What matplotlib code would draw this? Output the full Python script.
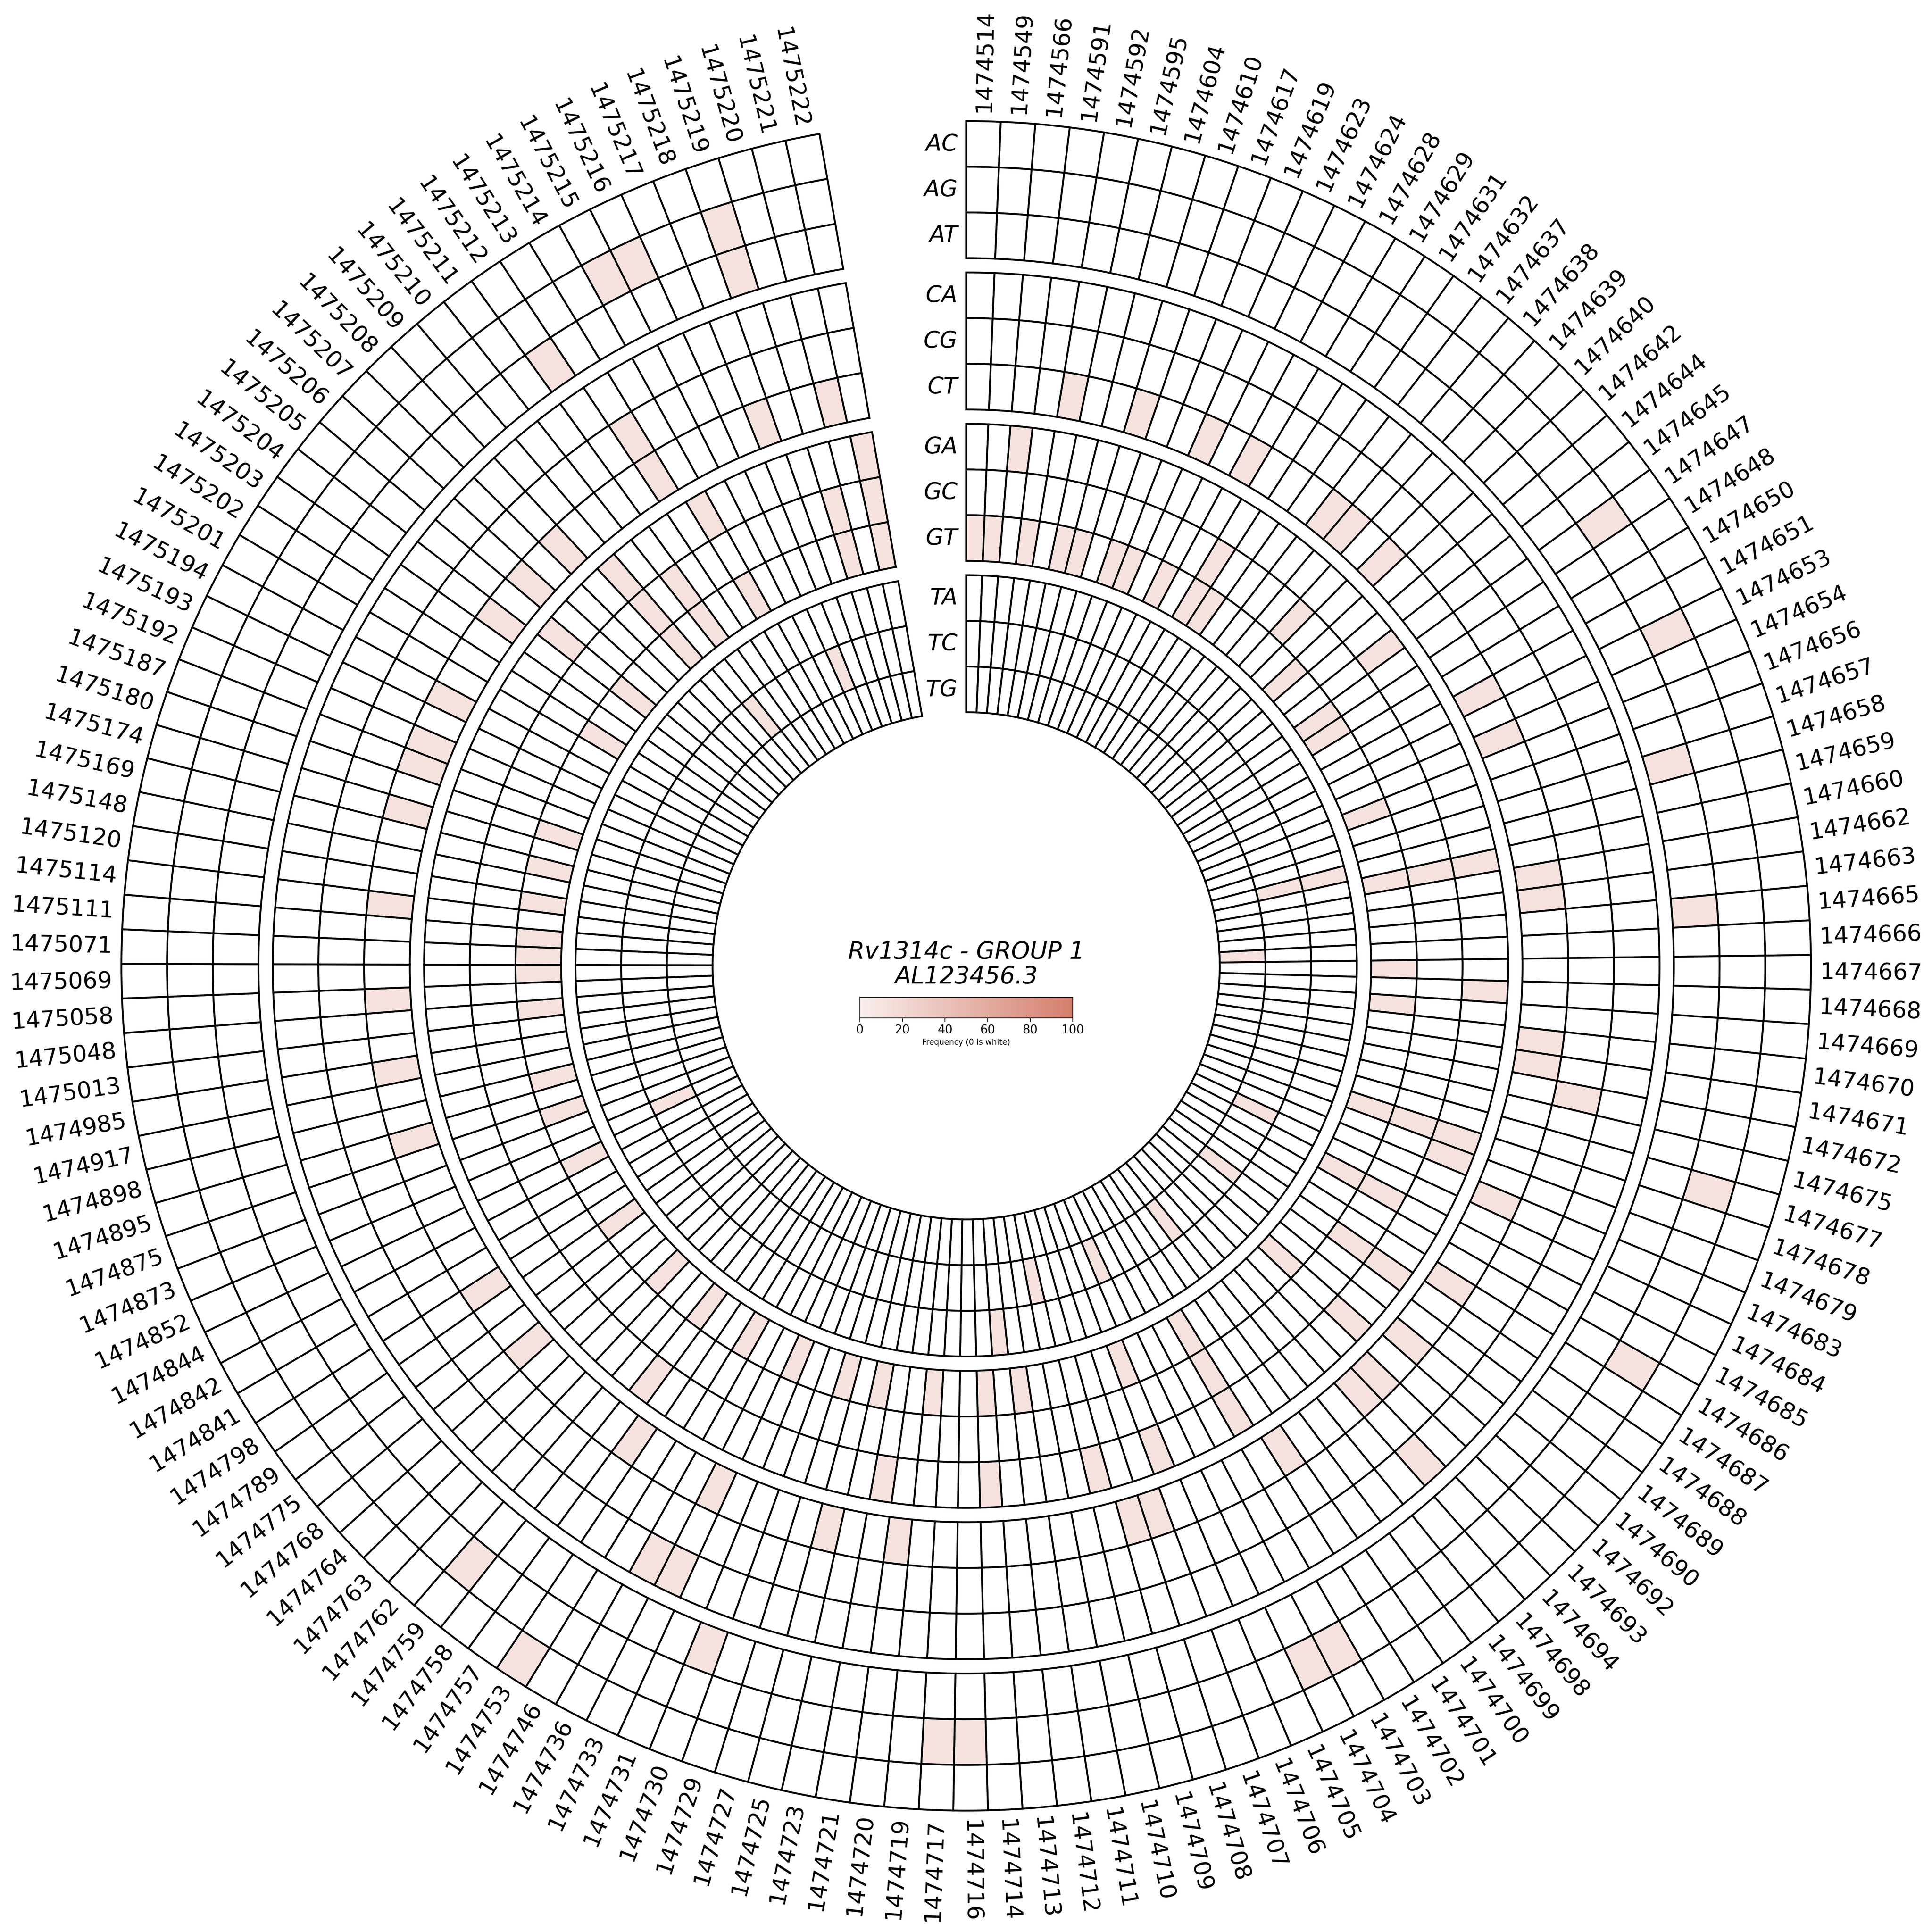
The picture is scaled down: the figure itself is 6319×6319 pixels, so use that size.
import matplotlib
matplotlib.use("Agg")
import matplotlib.pyplot as plt
import numpy as np
from matplotlib.colors import LinearSegmentedColormap, Normalize
from matplotlib.cm import ScalarMappable

# genomic positions, clockwise from the top
positions = [1474514, 1474549, 1474566, 1474591, 1474592, 1474595, 1474604, 1474610,
             1474617, 1474619, 1474623, 1474624, 1474628, 1474629, 1474631, 1474632,
             1474637, 1474638, 1474639, 1474640, 1474642, 1474644, 1474645, 1474647,
             1474648, 1474650, 1474651, 1474653, 1474654, 1474656, 1474657, 1474658,
             1474659, 1474660, 1474662, 1474663, 1474665, 1474666, 1474667, 1474668,
             1474669, 1474670, 1474671, 1474672, 1474675, 1474677, 1474678, 1474679,
             1474683, 1474684, 1474685, 1474686, 1474687, 1474688, 1474689, 1474690,
             1474692, 1474693, 1474694, 1474698, 1474699, 1474700, 1474701, 1474702,
             1474703, 1474704, 1474705, 1474706, 1474707, 1474708, 1474709, 1474710,
             1474711, 1474712, 1474713, 1474714, 1474716, 1474717, 1474719, 1474720,
             1474721, 1474723, 1474725, 1474727, 1474729, 1474730, 1474731, 1474733,
             1474736, 1474746, 1474753, 1474757, 1474758, 1474759, 1474762, 1474763,
             1474764, 1474768, 1474775, 1474789, 1474798, 1474841, 1474842, 1474844,
             1474852, 1474873, 1474875, 1474895, 1474898, 1474917, 1474985, 1475013,
             1475048, 1475058, 1475069, 1475071, 1475111, 1475114, 1475120, 1475148,
             1475169, 1475174, 1475180, 1475187, 1475192, 1475193, 1475194, 1475201,
             1475202, 1475203, 1475204, 1475205, 1475206, 1475207, 1475208, 1475209,
             1475210, 1475211, 1475212, 1475213, 1475214, 1475215, 1475216, 1475217,
             1475218, 1475219, 1475220, 1475221, 1475222]

substitutions = ["AC", "AG", "AT", "CA", "CG", "CT", "GA", "GC", "GT", "TA", "TC", "TG"]

# frequency (%) per position, positions not listed are 0
freq_AC = {1474753: 12}
freq_AG = {1474647: 12, 1474653: 12, 1474677: 12, 1474686: 12, 1474703: 12, 1474704: 12,
           1474716: 12, 1474717: 12, 1474759: 12, 1475215: 12, 1475216: 12, 1475219: 12}
freq_AT = {1474658: 12, 1474665: 12, 1474730: 12, 1475212: 12, 1475219: 12}
freq_CA = {1474694: 12, 1474733: 12, 1474736: 12}
freq_CG = {1474672: 12, 1475213: 12}
freq_CT = {1474592: 12, 1474610: 12, 1474623: 12, 1474628: 12, 1474637: 12, 1474638: 12,
           1474640: 12, 1474651: 12, 1474654: 12, 1474662: 12, 1474663: 12, 1474670: 12,
           1474671: 12, 1474683: 12, 1474687: 12, 1474690: 12, 1474693: 12, 1474694: 12,
           1474701: 12, 1474707: 12, 1474708: 12, 1474720: 12, 1474725: 12, 1474733: 12,
           1474757: 12, 1474768: 12, 1474798: 12, 1474895: 12, 1474985: 12, 1475058: 12,
           1475114: 12, 1475174: 12, 1475187: 12, 1475192: 12, 1475194: 12, 1475204: 12,
           1475206: 12, 1475208: 12, 1475213: 12, 1475218: 12, 1475221: 12}
freq_GA = {1474566: 12, 1474645: 12, 1474660: 12, 1474668: 12, 1474678: 12, 1474679: 12,
           1474688: 12, 1474692: 12, 1474702: 12, 1474706: 12, 1474709: 12, 1474714: 12,
           1474721: 12, 1474758: 12, 1475205: 12, 1475209: 12, 1475214: 12, 1475222: 12}
freq_GC = {1474629: 12, 1474639: 12, 1474660: 12, 1474678: 12, 1474685: 12, 1474688: 12,
           1474702: 12, 1475209: 12, 1475211: 12, 1475220: 12, 1475222: 12}
freq_GT = {1474514: 12, 1474549: 12, 1474591: 12, 1474595: 12, 1474604: 12, 1474617: 12,
           1474619: 12, 1474624: 12, 1474629: 12, 1474631: 12, 1474642: 12, 1474647: 12,
           1474648: 12, 1474656: 12, 1474660: 12, 1474667: 12, 1474669: 12, 1474678: 12,
           1474685: 12, 1474692: 12, 1474702: 12, 1474706: 12, 1474712: 12, 1474714: 12,
           1474719: 12, 1474723: 12, 1474727: 12, 1474731: 12, 1474746: 12, 1474758: 12,
           1474763: 12, 1474789: 12, 1474844: 12, 1474875: 12, 1474898: 12, 1475048: 12,
           1475069: 12, 1475071: 12, 1475111: 12, 1475120: 12, 1475169: 12, 1475180: 12,
           1475202: 12, 1475205: 12, 1475209: 12, 1475211: 12, 1475214: 12, 1475220: 12,
           1475222: 12}
freq_TA = {1474659: 12, 1474713: 12}
freq_TC = {1474659: 12, 1474684: 12, 1474689: 12, 1474699: 12, 1474705: 12, 1474710: 12,
           1474852: 12, 1475210: 12, 1475217: 12}
freq_TG = {1474666: 12}

freqs = [freq_AC, freq_AG, freq_AT, freq_CA, freq_CG, freq_CT,
         freq_GA, freq_GC, freq_GT, freq_TA, freq_TC, freq_TG]

title = "Rv1314c - GROUP 1"
subtitle = "AL123456.3"

W = 6766
R = W / 2
n = len(positions)
span = np.deg2rad(350)
step = span / n
theta = (np.arange(n) + 0.5) * step

cmap = LinearSegmentedColormap.from_list("freq", ["#f9efed", "#d47e6c"])
norm = Normalize(0, 100)

fig = plt.figure(figsize=(W / 400, W / 400), dpi=400)
ax = fig.add_axes([0, 0, 1, 1], projection="polar")
ax.set_theta_zero_location("N")
ax.set_theta_direction(-1)
ax.set_ylim(0, R)
ax.set_axis_off()

row_h = 160
for k, (sub, fr) in enumerate(zip(substitutions, freqs)):
    outer = 2958 - (k // 3) * 530 - (k % 3) * row_h
    vals = np.array([fr.get(p, 0) for p in positions], dtype=float)
    cols = [cmap(norm(v)) if v > 0 else "white" for v in vals]
    ax.bar(theta, row_h, width=step, bottom=outer - row_h, color=cols,
           edgecolor="black", linewidth=1.15, align="center")
    fig.text((R - 30) / W, 0.5 + (outer - row_h / 2) / W, sub, ha="right", va="center",
             style="italic", fontsize=14.5)

for t, p in zip(theta, positions):
    deg = np.rad2deg(t)
    if deg < 180:
        rot, ha = 90 - deg, "left"
    else:
        rot, ha = 270 - deg, "right"
    ax.text(t, 2990, str(p), rotation=rot, rotation_mode="anchor", ha=ha, va="center",
            fontsize=14.5)

fig.text(0.5, 1 - 3334 / W, title, ha="center", va="center", style="italic", fontsize=15)
fig.text(0.5, 1 - 3420 / W, subtitle, ha="center", va="center", style="italic", fontsize=15)

cax = fig.add_axes([3010 / W, 1 - 3565 / W, 746 / W, 73 / W])
cb = fig.colorbar(ScalarMappable(norm=norm, cmap=cmap), cax=cax, orientation="horizontal")
cb.set_ticks([0, 20, 40, 60, 80, 100])
cb.ax.tick_params(labelsize=7.5, width=0.5, length=2.5, pad=1.5)
cb.outline.set_linewidth(0.5)
cb.set_label("Frequency (0 is white)", fontsize=5, labelpad=1.5)

# saved just under 40 Mpx so the image can be read back
fig.savefig("out.png", dpi=400 * 6320 / W, facecolor="white")
